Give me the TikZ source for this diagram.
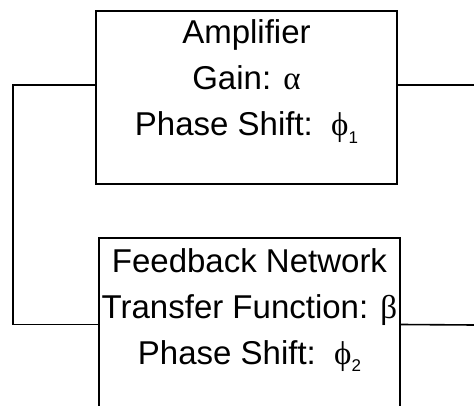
\documentclass[tikz,border=0pt]{standalone}
\usepackage{fontspec}
\setmainfont{Liberation Sans}
\newfontfamily\greekfont{Liberation Serif}
\usetikzlibrary{positioning}
\newcommand{\grk}[1]{{\greekfont #1}}
\newcommand{\phsub}[1]{\grk{ϕ}\raisebox{-0.22em}{\fontsize{17}{17}\selectfont #1}}
\tikzset{
 block/.style={draw, line width=1.6pt, minimum width=301pt, minimum height=173pt, inner sep=0pt},
 blocktext/.style={align=center, inner sep=0pt, font=\fontsize{33}{46}\selectfont},
 wire/.style={line width=1.6pt}
}
\begin{document}
\begin{tikzpicture}[x=1pt, y=-1pt, line join=miter]
 \useasboundingbox (0,0) rectangle (474,406);
 \clip (0,0) rectangle (474,406);
 \node[block] (amp) at (246.5,97.5) {};
 \node[block] (fb) at (249.5,324.5) {};
 \node[blocktext, below=9.5pt of amp.north] (ampt) {Amplifier\\Gain: \grk{α}\\Phase Shift:\ \ \phsub{1}};
 \node[blocktext, below=11pt of fb.north] (fbt) {Feedback Network\\Transfer Function: \grk{β}\\Phase Shift:\ \ \phsub{2}};
 \coordinate (loop) at (13,0);
 \coordinate (ampout) at (474,85);
 \coordinate (fbout) at (474,325);
 \draw[wire] ([yshift=12.5pt]amp.west) -| (loop |- fb.west) -- (fb.west);
 \draw[wire] ([yshift=12.5pt]amp.east) -- (ampout);
 \draw[wire] (fb.east) -- (fbout);
\end{tikzpicture}
\end{document}
